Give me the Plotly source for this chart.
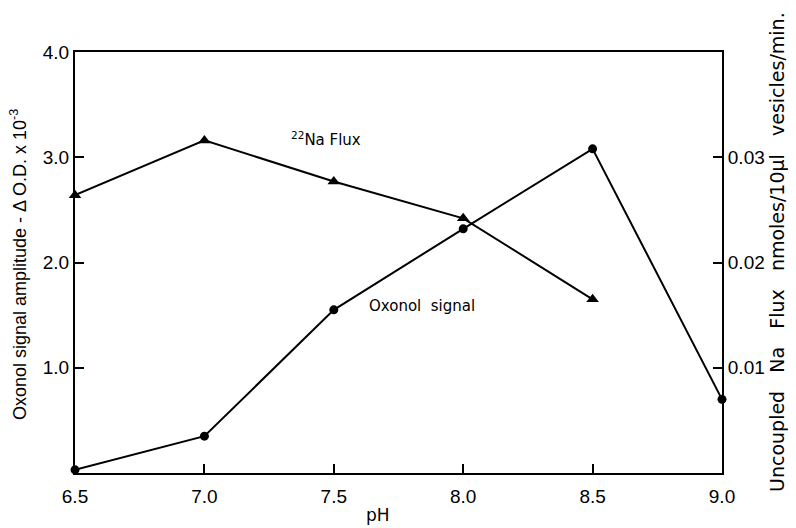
import plotly.graph_objects as go

ph = [6.5, 7.0, 7.5, 8.0, 8.5, 9.0]
oxonol_signal = [0.03, 0.35, 1.55, 2.32, 3.08, 0.70]
ph_na = [6.5, 7.0, 7.5, 8.0, 8.5]
na_flux = [0.0264, 0.0316, 0.0277, 0.0242, 0.0165]

x_ticks = [6.5, 7.0, 7.5, 8.0, 8.5, 9.0]
x_tick_labels = ["6.5", "7.0", "7.5", "8.0", "8.5", "9.0"]
left_ticks = [1.0, 2.0, 3.0, 4.0]
left_tick_labels = ["1.0", "2.0", "3.0", "4.0"]
right_ticks = [0.01, 0.02, 0.03]
right_tick_labels = ["0.01", "0.02", "0.03"]

font = "Liberation Sans, Arial, sans-serif"
font2 = "DejaVu Sans, Liberation Sans, sans-serif"

fig = go.Figure()
fig.add_trace(go.Scatter(
    x=ph, y=oxonol_signal, mode="lines+markers",
    line=dict(color="black", width=2),
    marker=dict(symbol="circle", size=9, color="black"),
    cliponaxis=False, showlegend=False, yaxis="y"))
fig.add_trace(go.Scatter(
    x=ph_na, y=na_flux, mode="lines+markers",
    line=dict(color="black", width=2),
    marker=dict(symbol="triangle-up", size=11, color="black"),
    cliponaxis=False, showlegend=False, yaxis="y2"))

axis_common = dict(
    ticks="inside", ticklen=9, tickwidth=1.5, tickcolor="black",
    showline=True, linecolor="black", linewidth=2,
    showgrid=False, zeroline=False, automargin=False,
    tickfont=dict(size=19, family=font),
)

# page body has an 8px margin; compensate so the plot lands where the reference has it
fig.update_layout(
    width=788, height=520,
    margin=dict(l=67, r=74, t=44, b=55),
    paper_bgcolor="white", plot_bgcolor="white",
    font=dict(family=font, color="black"),
    xaxis=dict(range=[6.5, 9.0], tickvals=x_ticks, ticktext=x_tick_labels,
               mirror=True, ticklabelstandoff=5, **axis_common),
    yaxis=dict(range=[0, 4.0], tickvals=left_ticks, ticktext=left_tick_labels,
               **axis_common),
    yaxis2=dict(range=[0, 0.04], tickvals=right_ticks, ticktext=right_tick_labels,
                overlaying="y", side="right", **axis_common),
    annotations=[
        dict(x=7.47, y=3.17, xref="x", yref="y", text="<sup>22</sup>Na Flux",
             showarrow=False, font=dict(size=15, family=font2)),
        dict(x=7.84, y=1.59, xref="x", yref="y", text="Oxonol  signal",
             showarrow=False, font=dict(size=15, family=font2)),
        dict(x=-0.088, y=0.494, xref="paper", yref="paper", textangle=-90,
             xanchor="center", yanchor="middle",
             text="Oxonol signal amplitude - Δ O.D. x 10<sup>-3</sup>",
             showarrow=False, font=dict(size=18, family=font)),
        dict(x=1.085, y=0.525, xref="paper", yref="paper", textangle=-90,
             xanchor="center", yanchor="middle",
             text="Uncoupled   Na   Flux   nmoles/10μl   vesicles/min.",
             showarrow=False, font=dict(size=19, family=font2)),
        dict(x=0.468, y=-0.1, xref="paper", yref="paper", text="pH",
             xanchor="center", yanchor="middle",
             showarrow=False, font=dict(size=17, family=font2)),
    ],
)

fig.write_html("out.html")
